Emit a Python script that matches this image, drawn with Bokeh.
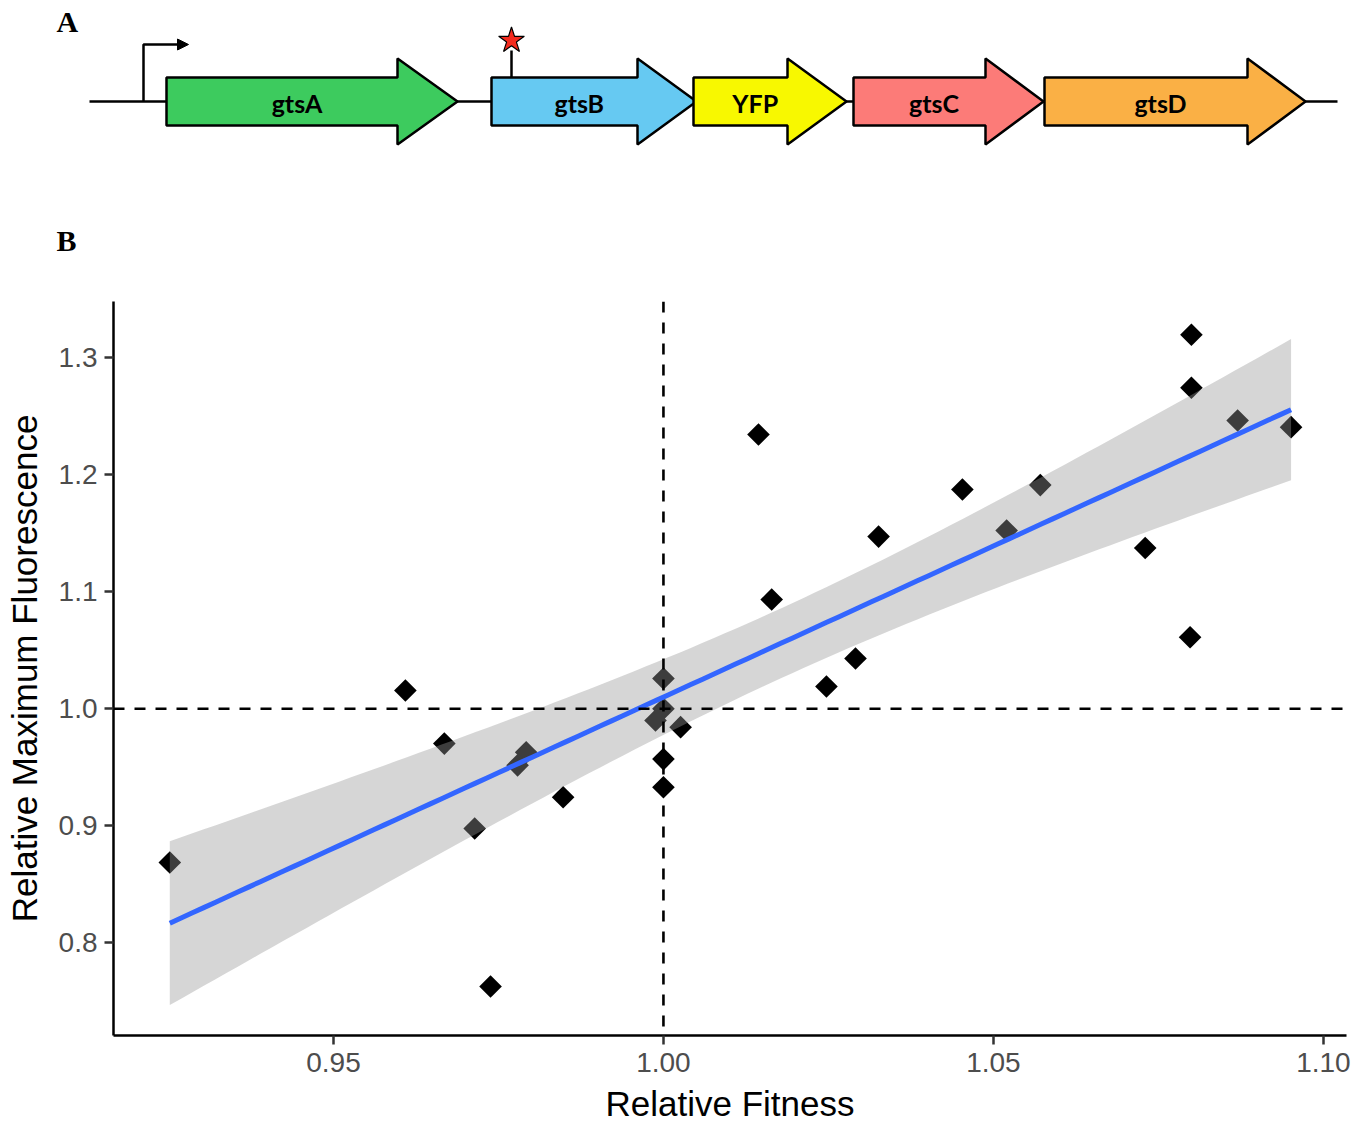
import numpy as np
from bokeh.plotting import figure
from bokeh.layouts import column
from bokeh.models import Range1d, FixedTicker, PrintfTickFormatter, Span
from bokeh.core.properties import value
from bokeh.embed import file_html
from bokeh.resources import INLINE

# ---------------- data: panel B ----------------
fitness = [0.9252, 0.9609, 0.9668, 0.9714, 0.9738, 0.9779, 0.9792, 0.9848,
           1.0000, 1.0000, 0.9988, 1.0026, 1.0000, 1.0000,
           1.0144, 1.0164, 1.0247, 1.0291, 1.0326, 1.0453, 1.0520, 1.0571,
           1.0730, 1.0800, 1.0800, 1.0798, 1.0870, 1.0951]
fluorescence = [0.8686, 1.0156, 0.9703, 0.8977, 0.7627, 0.9517, 0.9628, 0.9244,
                1.0259, 1.0000, 0.9900, 0.9843, 0.9570, 0.9330,
                1.2344, 1.0934, 1.0191, 1.0430, 1.1472, 1.1874, 1.1524, 1.1912,
                1.1374, 1.3197, 1.2744, 1.0612, 1.2464, 1.2407]
x_ticks = [0.95, 1.00, 1.05, 1.10]
y_ticks = [0.8, 0.9, 1.0, 1.1, 1.2, 1.3]
x_label = "Relative Fitness"
y_label = "Relative Maximum Fluorescence"

# ---------------- data: panel A (gene map) ----------------
gene_names = ["gtsA", "gtsB", "YFP", "gtsC", "gtsD"]
gene_start = [166, 491, 693, 853, 1044]
gene_head = [397, 637, 787, 985, 1247]
gene_end = [457, 696, 846, 1043, 1305]
gene_colors = ["#3DCB5E", "#66C9F2", "#F8F800", "#FC7B78", "#FAB045"]
backbone = [89, 1337]
promoter_pos = 143
mutation_pos = 511
panel_labels = ["A", "B"]

# ---------------- panel A figure ----------------
top = figure(width=1368, height=260, x_range=Range1d(0, 1368), y_range=Range1d(260, 0),
             output_backend="svg", toolbar_location=None, min_border=0,
             x_axis_location=None, y_axis_location=None)
top.frame_align = False
top.grid.visible = False
top.outline_line_color = None

yc = 101
bh = 24
hh = 43
top.line(x=backbone, y=[yc, yc], line_color="black", line_width=2.5)

xs, ys = [], []
for s, h, e in zip(gene_start, gene_head, gene_end):
    xs.append([s, h, h, e, h, h, s])
    ys.append([yc - bh, yc - bh, yc - hh, yc, yc + hh, yc + bh, yc + bh])
top.patches(xs=xs, ys=ys, fill_color=gene_colors, line_color="black", line_width=2.5)

label_x = [(2 * s + h + e) / 4 for s, h, e in zip(gene_start, gene_head, gene_end)]
top.text(x=label_x, y=[yc + 1] * len(gene_names), text=gene_names,
         text_font=value("Lato"), text_font_style="bold", text_font_size="25px",
         text_align="center", text_baseline="middle", text_color="black")

# promoter bent arrow
top.line(x=[promoter_pos, promoter_pos, promoter_pos + 36], y=[yc, 44, 44],
         line_color="black", line_width=2.5)
top.patch(x=[promoter_pos + 34, promoter_pos + 45, promoter_pos + 34],
          y=[38.5, 44, 49.5], fill_color="black", line_color="black")

# mutation marker
top.line(x=[mutation_pos, mutation_pos], y=[yc - bh, 50], line_color="black", line_width=2.5)
top.scatter(x=[mutation_pos], y=[40], marker="star", size=27,
            fill_color="#F42B1E", line_color="black", line_width=1.2)

top.text(x=[56, 56], y=[21, 240], text=panel_labels, text_font=value("Liberation Serif"),
         text_font_style="bold", text_font_size="30px", text_align="left",
         text_baseline="middle", text_color="black")

# ---------------- panel B figure ----------------
p = figure(width=1368, height=866, x_range=Range1d(0.91667, 1.1035),
           y_range=Range1d(0.7208, 1.3481), output_backend="svg", toolbar_location=None,
           min_border_left=113, min_border_right=22, min_border_top=41, min_border_bottom=91)
p.frame_align = False
p.grid.visible = False
p.outline_line_color = None

fx = np.array(fitness)
fy = np.array(fluorescence)
p.scatter(x=fx, y=fy, marker="square", angle=np.pi / 4, size=16,
          fill_color="black", line_color=None)

# linear fit with 95% confidence band
n = len(fx)
slope, intercept = np.polyfit(fx, fy, 1)
resid = fy - (slope * fx + intercept)
s_err = np.sqrt(np.sum(resid ** 2) / (n - 2))
sxx = np.sum((fx - fx.mean()) ** 2)
t_val = 2.0555  # t(0.975, df=26)
gx = np.linspace(fx.min(), fx.max(), 100)
gy = slope * gx + intercept
se = s_err * np.sqrt(1.0 / n + (gx - fx.mean()) ** 2 / sxx)
p.varea(x=gx, y1=gy - t_val * se, y2=gy + t_val * se, fill_color="#999999", fill_alpha=0.4)
p.line(x=gx, y=gy, line_color="#3366FF", line_width=5)

p.add_layout(Span(location=1.0, dimension="height", line_color="black",
                  line_width=2.6, line_dash="11 10"))
p.add_layout(Span(location=1.0, dimension="width", line_color="black",
                  line_width=2.6, line_dash="11 10"))

p.xaxis.ticker = FixedTicker(ticks=x_ticks)
p.xaxis.formatter = PrintfTickFormatter(format="%.2f")
p.yaxis.ticker = FixedTicker(ticks=y_ticks)
p.yaxis.formatter = PrintfTickFormatter(format="%.1f")
p.xaxis.axis_label = x_label
p.yaxis.axis_label = y_label
for ax in (p.xaxis, p.yaxis):
    ax.axis_line_color = "black"
    ax.axis_line_width = 2.5
    ax.major_tick_line_color = "#333333"
    ax.major_tick_line_width = 2.5
    ax.major_tick_out = 9
    ax.major_tick_in = 0
    ax.minor_tick_line_color = None
    ax.major_label_text_font = "Liberation Sans"
    ax.major_label_text_font_size = "28px"
    ax.major_label_text_color = "#4D4D4D"
    ax.axis_label_text_font = "Liberation Sans"
    ax.axis_label_text_font_size = "35px"
    ax.axis_label_text_font_style = "normal"
    ax.axis_label_text_color = "black"
p.xaxis.major_label_standoff = 8
p.yaxis.major_label_standoff = 7
p.xaxis.axis_label_standoff = 9
p.yaxis.axis_label_standoff = 12

layout = column(top, p, spacing=0)
open("out.html", "w").write(file_html(layout, INLINE))
